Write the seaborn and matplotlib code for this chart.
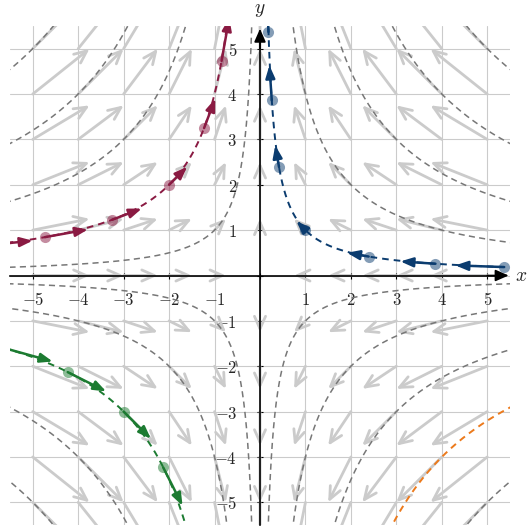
import numpy as np
import matplotlib
matplotlib.use("Agg")
import matplotlib.pyplot as plt
from matplotlib.patches import FancyArrowPatch
import seaborn as sns

# ---------------- data ----------------
ticks = [-5, -4, -3, -2, -1, 0, 1, 2, 3, 4, 5]
tick_labels = [r"$-5$", r"$-4$", r"$-3$", r"$-2$", r"$-1$", "",
               r"$1$", r"$2$", r"$3$", r"$4$", r"$5$"]
grid_points = [-5, -4, -3, -2, -1, 0, 1, 2, 3, 4, 5]
level_values = [1, 4, 9, 16, 25]          # |x*y| of the dashed hyperbolas
field_scale = 0.25                        # length factor of field arrows
step_scale = 0.2                          # length factor of trajectory arrows

blue_level = 1
blue_x = [5.37, 3.86, 2.39, 1.0, 0.419, 0.259, 0.186]
blue_y = [0.186, 0.259, 0.418, 1.0, 2.39, 3.86, 5.37]

red_level = -4
red_x = [-6.25, -4.73, -3.25, -2.0, -1.23, -0.846]
red_y = [0.64, 0.846, 1.23, 2.0, 3.25, 4.73]

green_level = 9
green_x = [-5.7, -4.23, -3.0, -2.13, -1.58]
green_y = [-1.58, -2.13, -3.0, -4.23, -5.7]

orange_level = -16

# ---------------- style ----------------
BLUE = "#0b3c6f"
RED = "#8a1a42"
GREEN = "#1c7b31"
ORANGE = "#ec7a1c"
GREY_DASH = "#777777"
LIGHT = "#cbcbcb"

sns.set_theme(style="white")
plt.rcParams["mathtext.fontset"] = "cm"
plt.rcParams["font.family"] = ["DejaVu Sans"]

fig = plt.figure(figsize=(5.27, 5.31), dpi=100)
ax = fig.add_axes([10 / 527, 6 / 531, 500 / 527, 499 / 531])
LIM = 5.5
ax.set_xlim(-LIM, LIM)
ax.set_ylim(-LIM, LIM)


def field(x, y):
    # saddle system x' = -x, y' = y
    return -x, y


# grid
ax.set_xticks(ticks)
ax.set_yticks(ticks)
ax.set_xticklabels(tick_labels)
ax.set_yticklabels(tick_labels)
ax.grid(True, color=LIGHT, lw=0.8, zorder=0)
ax.set_axisbelow(True)

# vector field arrows
for gx in grid_points:
    for gy in grid_points:
        u, v = field(gx, gy)
        if u == 0 and v == 0:
            continue
        p = FancyArrowPatch((gx, gy), (gx + field_scale * u, gy + field_scale * v),
                            arrowstyle="->,head_length=0.45,head_width=0.2",
                            mutation_scale=20, color=LIGHT, lw=2.0,
                            shrinkA=0, shrinkB=0, zorder=1)
        ax.add_patch(p)


def hyperbola(level, sx):
    a = abs(level)
    xs = sx * np.geomspace(a / 5.7, 5.7, 400)
    return xs, level / xs


special = {(1, 1): blue_level, (-1, 1): red_level, (-1, -1): green_level, (1, -1): orange_level}
for (sx, sy), sp in special.items():
    for lv in level_values:
        level = sx * sy * lv
        if level == sp:
            continue
        xs, ys = hyperbola(level, sx)
        sns.lineplot(x=xs, y=ys, ax=ax, color=GREY_DASH, lw=1.1,
                     linestyle=(0, (4, 2.8)), estimator=None, sort=False, zorder=2)

# coloured dashed trajectories
for level, sx, col in [(blue_level, 1, BLUE), (red_level, -1, RED),
                       (green_level, -1, GREEN), (orange_level, 1, ORANGE)]:
    xs, ys = hyperbola(level, sx)
    sns.lineplot(x=xs, y=ys, ax=ax, color=col, lw=1.4,
                 linestyle=(0, (3.4, 2.6)), estimator=None, sort=False, zorder=3)

# trajectory arrows + dots
for px, py, col in [(blue_x, blue_y, BLUE), (red_x, red_y, RED), (green_x, green_y, GREEN)]:
    for x0, y0 in zip(px, py):
        u, v = field(x0, y0)
        p = FancyArrowPatch((x0, y0), (x0 + step_scale * u, y0 + step_scale * v),
                            arrowstyle="-|>,head_length=0.75,head_width=0.28",
                            mutation_scale=10, color=col, lw=1.8,
                            shrinkA=0, shrinkB=0, zorder=4)
        ax.add_patch(p)
    sns.scatterplot(x=px, y=py, ax=ax, color=col, alpha=0.5, s=64,
                    linewidth=0, zorder=5, legend=False)

# axes through the origin
for side in ["top", "right"]:
    ax.spines[side].set_visible(False)
ax.spines["bottom"].set_position(("data", 0))
ax.spines["left"].set_position(("data", 0))
for side in ["bottom", "left"]:
    ax.spines[side].set_color("black")
    ax.spines[side].set_linewidth(1.2)
    ax.spines[side].set_zorder(2.5)
ax.spines["bottom"].set_bounds(-LIM, 5.2)
ax.spines["left"].set_bounds(-LIM, 5.2)
ax.add_patch(FancyArrowPatch((5.0, 0), (5.47, 0), arrowstyle="-|>,head_length=0.8,head_width=0.35",
                             mutation_scale=10, color="black", lw=1.2, shrinkA=0, shrinkB=0,
                             zorder=2.6, clip_on=False))
ax.add_patch(FancyArrowPatch((0, 5.0), (0, 5.44), arrowstyle="-|>,head_length=0.8,head_width=0.35",
                             mutation_scale=10, color="black", lw=1.2, shrinkA=0, shrinkB=0,
                             zorder=2.6, clip_on=False))

ax.tick_params(axis="both", which="both", direction="inout", length=5, width=0.8,
               color="black", labelsize=12)
ax.tick_params(axis="x", bottom=True, pad=9)
ax.tick_params(axis="y", left=True, pad=14)
ax.set_xlabel("")
ax.set_ylabel("")

ax.text(5.6, 0, r"$x$", fontsize=14, ha="left", va="center", clip_on=False)
ax.text(0, 5.86, r"$y$", fontsize=14, ha="center", va="center", clip_on=False)

fig.savefig("out.png", dpi=100)
